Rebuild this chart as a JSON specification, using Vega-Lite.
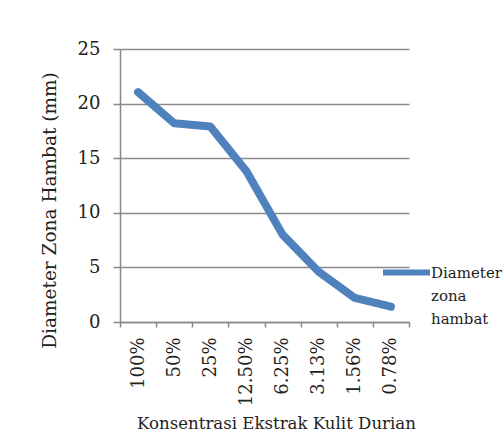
{
  "$schema": "https://vega.github.io/schema/vega-lite/v6.json",
  "width": 289,
  "height": 273,
  "autosize": {"type": "none"},
  "padding": {"left": 120, "top": 49, "right": 94, "bottom": 124},
  "background": "white",
  "config": {
    "view": {"stroke": null},
    "font": "DejaVu Serif"
  },
  "data": {
    "values": [
      {"konsentrasi": "100%", "diameter": 21.05, "seri": "Diameter zona hambat"},
      {"konsentrasi": "50%", "diameter": 18.2, "seri": "Diameter zona hambat"},
      {"konsentrasi": "25%", "diameter": 17.9, "seri": "Diameter zona hambat"},
      {"konsentrasi": "12.50%", "diameter": 13.8, "seri": "Diameter zona hambat"},
      {"konsentrasi": "6.25%", "diameter": 8.0, "seri": "Diameter zona hambat"},
      {"konsentrasi": "3.13%", "diameter": 4.6, "seri": "Diameter zona hambat"},
      {"konsentrasi": "1.56%", "diameter": 2.2, "seri": "Diameter zona hambat"},
      {"konsentrasi": "0.78%", "diameter": 1.4, "seri": "Diameter zona hambat"}
    ]
  },
  "mark": {"type": "line", "strokeWidth": 8, "strokeCap": "round", "strokeJoin": "round"},
  "encoding": {
    "x": {
      "field": "konsentrasi",
      "type": "nominal",
      "sort": null,
      "scale": {"paddingInner": 0, "paddingOuter": 0},
      "axis": {
        "title": "Konsentrasi Ekstrak Kulit Durian",
        "titleFont": "DejaVu Serif",
        "titleFontSize": 16.6,
        "titleFontWeight": "normal",
        "titleColor": "#222222",
        "titleX": 156,
        "titleY": 93,
        "titleBaseline": "top",
        "labelAngle": -90,
        "labelAlign": "right",
        "labelBaseline": "middle",
        "labelFontSize": 18,
        "labelColor": "#222222",
        "labelPadding": 10,
        "tickBand": "extent",
        "tickSize": 5,
        "tickColor": "#888888",
        "domainColor": "#888888",
        "domainWidth": 1.5,
        "tickWidth": 1.5,
        "grid": false
      }
    },
    "y": {
      "field": "diameter",
      "type": "quantitative",
      "scale": {"domain": [0, 25], "nice": false},
      "axis": {
        "title": "Diameter Zona Hambat (mm)",
        "titleFont": "DejaVu Serif",
        "titleFontSize": 18.5,
        "titleFontWeight": "normal",
        "titleColor": "#222222",
        "titleY": 161,
        "titlePadding": 18,
        "values": [0, 5, 10, 15, 20, 25],
        "labelFontSize": 18,
        "labelColor": "#222222",
        "labelPadding": 13,
        "tickSize": 7,
        "tickColor": "#888888",
        "tickWidth": 1.5,
        "domainColor": "#888888",
        "domainWidth": 1.5,
        "grid": true,
        "gridColor": "#8a8a8a",
        "gridWidth": 1.5
      }
    },
    "color": {
      "field": "seri",
      "type": "nominal",
      "scale": {"range": ["#4F81BD"]},
      "legend": {
        "title": null,
        "orient": "none",
        "legendX": 260,
        "legendY": 197,
        "padding": 0,
        "symbolType": "stroke",
        "symbolSize": 2209,
        "symbolStrokeWidth": 6,
        "labelOffset": -2,
        "labelFont": "DejaVu Serif",
        "labelFontSize": 15,
        "labelColor": "#222222",
        "labelLimit": 200,
        "labelBaseline": "middle",
        "labelExpr": "['Diameter', 'zona', 'hambat']",
        "encode": {
          "labels": {"update": {"lineHeight": {"value": 23}}}
        }
      }
    }
  }
}
